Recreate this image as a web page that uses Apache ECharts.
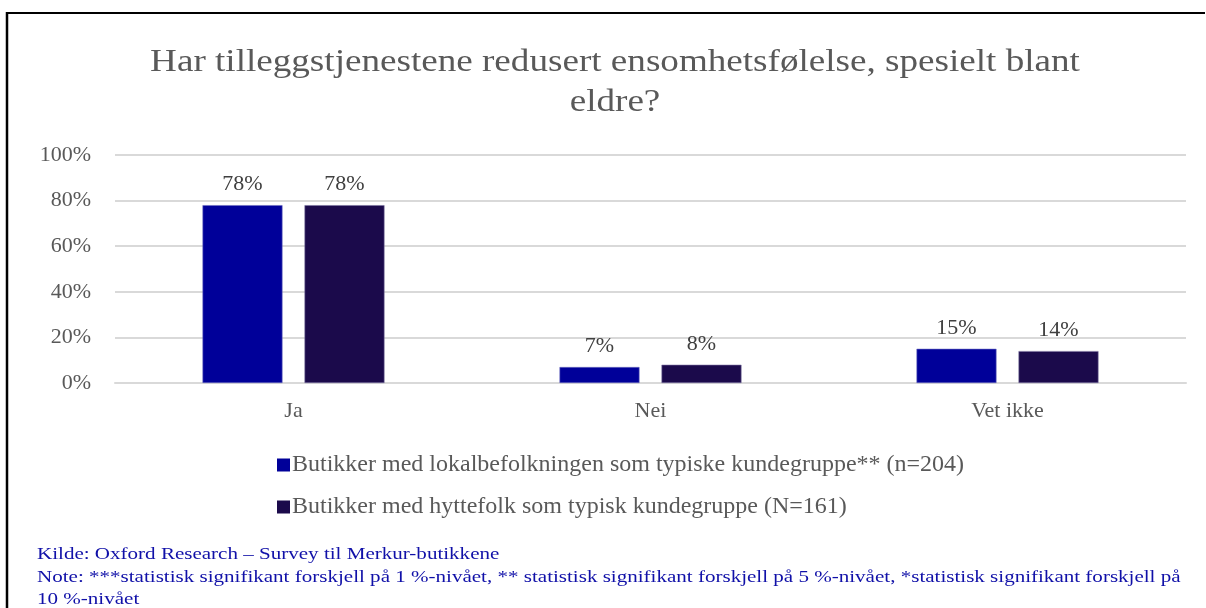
<!DOCTYPE html>
<html>
<head>
<meta charset="utf-8">
<script src="https://cdn.jsdelivr.net/npm/echarts@6/dist/echarts.min.js"></script>
<style>
  html, body { margin: 0; padding: 0; background: #fff; }
  #chart { width: 1206px; height: 608px; }
</style>
</head>
<body>
<div id="chart"></div>
<script>
const categories = ['Ja', 'Nei', 'Vet ikke']
const lokalValues = [0.78, 0.07, 0.15]
const hytteValues = [0.78, 0.08, 0.14]
const seriesNames = [
  'Butikker med lokalbefolkningen som typiske kundegruppe** (n=204)',
  'Butikker med hyttefolk som typisk kundegruppe (N=161)'
]
const yTicks = [0, 0.2, 0.4, 0.6, 0.8, 1]

const font = 'Liberation Serif'
const grey = '#595959'
const pct = v => Math.round(v * 100) + '%'

const myChart = echarts.init(document.getElementById('chart'))
const option = {
  animation: false,
  textStyle: { fontFamily: font },
  grid: { left: 115, right: 20, top: 155, bottom: 225, containLabel: false },
  legend: {
    orient: 'vertical',
    left: 272,
    top: 448,
    itemWidth: 13,
    itemHeight: 13,
    itemGap: 18,
    icon: 'rect',
    itemStyle: { borderWidth: 0 },
    textStyle: { fontFamily: font, fontSize: 24, color: grey, padding: [0, 0, 0, -3] },
    data: seriesNames
  },
  xAxis: {
    type: 'category',
    data: categories,
    axisTick: { show: false },
    axisLine: { lineStyle: { color: '#d9d9d9', width: 2 } },
    axisLabel: { color: grey, fontSize: 22, fontFamily: font, margin: 17 }
  },
  yAxis: {
    type: 'value',
    min: 0,
    max: 1,
    interval: 0.2,
    axisLine: { show: false },
    axisTick: { show: false },
    axisLabel: { color: grey, fontSize: 22, fontFamily: font, margin: 24, formatter: v => yTicks.includes(Math.round(v * 10) / 10) ? pct(v) : '' },
    splitLine: { lineStyle: { color: '#d9d9d9', width: 2 } }
  },
  series: [
    {
      name: seriesNames[0],
      type: 'bar',
      data: lokalValues,
      barWidth: 80,
      barGap: '27.5%',
      itemStyle: { color: '#000099', borderColor: '#6a6ac0', borderWidth: 0.6 },
      label: { show: true, position: 'top', distance: 10, color: '#404040', fontSize: 22, fontFamily: font, formatter: p => pct(p.value) }
    },
    {
      name: seriesNames[1],
      type: 'bar',
      data: hytteValues,
      barWidth: 80,
      itemStyle: { color: '#1b0a4b', borderColor: '#7a70a0', borderWidth: 0.6 },
      label: { show: true, position: 'top', distance: 10, color: '#404040', fontSize: 22, fontFamily: font, formatter: p => pct(p.value) }
    }
  ],
  graphic: [
    { type: 'line', shape: { x1: 7, y1: 13, x2: 1205, y2: 13 }, style: { stroke: '#000', lineWidth: 2 } },
    { type: 'line', shape: { x1: 7, y1: 12, x2: 7, y2: 608 }, style: { stroke: '#000', lineWidth: 2.5 } },
    {
      type: 'text',
      x: 615,
      y: 43,
      scaleX: 1.16,
      style: {
        text: 'Har tilleggstjenestene redusert ensomhetsfølelse, spesielt blant\neldre?',
        font: '32px "Liberation Serif"',
        fill: grey,
        align: 'center',
        lineHeight: 40
      }
    },
    {
      type: 'text',
      x: 37,
      y: 544,
      scaleX: 1.315,
      style: {
        text: 'Kilde: Oxford Research – Survey til Merkur-butikkene\nNote: ***statistisk signifikant forskjell på 1 %-nivået, ** statistisk signifikant forskjell på 5 %-nivået, *statistisk signifikant forskjell på\n10 %-nivået',
        font: '16px "Liberation Serif"',
        fill: '#1010a8',
        lineHeight: 22.5
      }
    }
  ]
}
myChart.setOption(option)
</script>
</body>
</html>
